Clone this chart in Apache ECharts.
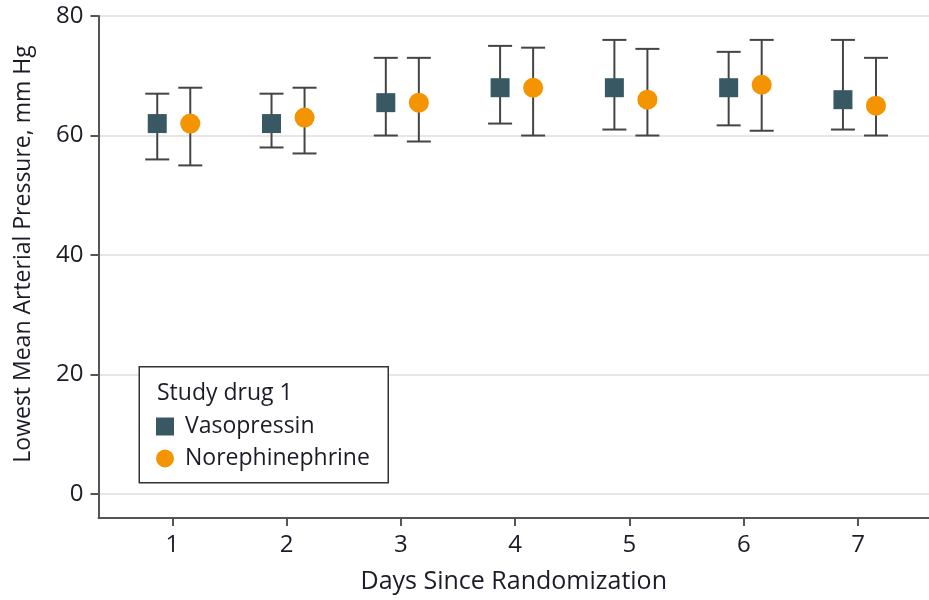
<!DOCTYPE html>
<html>
<head>
<meta charset="utf-8">
<script src="https://cdn.jsdelivr.net/npm/echarts@6/dist/echarts.min.js"></script>
<style>html,body{margin:0;padding:0;background:#fff;}#chart{width:929px;height:600px;}</style>
</head>
<body>
<div id="chart"></div>
<script>
const days = [1, 2, 3, 4, 5, 6, 7];
const vasoMean = [62, 62, 65.5, 68, 68, 68, 66];
const vasoLow  = [56, 58, 60, 62, 61, 61.7, 61];
const vasoHigh = [67, 67, 73, 75, 76, 74, 76];
const noreMean = [62, 63, 65.5, 68, 66, 68.5, 65];
const noreLow  = [55, 57, 59, 60, 60, 60.8, 60];
const noreHigh = [68, 68, 73, 74.7, 74.5, 76, 73];
const yTicks = [0, 20, 40, 60, 80];
const vasoDodge = -0.132;
const noreDodge = 0.157;

const FONT = '"Open Sans", sans-serif';
const TXT = '#1c1c28';

const chart = echarts.init(document.getElementById('chart'), null, {renderer: 'canvas'});

function errBar() {
  return function (params, api) {
    const x = api.value(0);
    const lo = api.coord([x, api.value(1)]);
    const hi = api.coord([x, api.value(2)]);
    const hw = 12;
    const style = {stroke: '#444', lineWidth: 2};
    return {
      type: 'group',
      children: [
        {type: 'line', shape: {x1: lo[0], y1: lo[1], x2: hi[0], y2: hi[1]}, style},
        {type: 'line', shape: {x1: lo[0] - hw, y1: lo[1], x2: lo[0] + hw, y2: lo[1]}, style},
        {type: 'line', shape: {x1: hi[0] - hw, y1: hi[1], x2: hi[0] + hw, y2: hi[1]}, style}
      ]
    };
  };
}

const vasoBars = days.map((d, i) => [d + vasoDodge, vasoLow[i], vasoHigh[i]]);
const noreBars = days.map((d, i) => [d + noreDodge, noreLow[i], noreHigh[i]]);
const vasoPts = days.map((d, i) => [d + vasoDodge, vasoMean[i]]);
const norePts = days.map((d, i) => [d + noreDodge, noreMean[i]]);

chart.setOption({
  animation: false,
  grid: {left: 98.5, right: 0, top: 16, bottom: 82, containLabel: false},
  xAxis: {
    type: 'value', min: 0.354, max: 7.621,
    axisLine: {show: true, onZero: false, lineStyle: {color: '#555', width: 2}},
    axisTick: {show: true, length: 8, lineStyle: {color: '#555', width: 2}, customValues: days},
    axisLabel: {fontSize: 24, fontFamily: FONT, color: TXT, margin: 15, customValues: days},
    splitLine: {show: false},
    name: 'Days Since Randomization', nameLocation: 'middle', nameGap: 64,
    nameTextStyle: {fontSize: 25, fontFamily: FONT, color: TXT, verticalAlign: 'middle'}
  },
  yAxis: {
    type: 'value', min: -4, max: 80,
    axisLine: {show: true, onZero: false, lineStyle: {color: '#555', width: 2}},
    axisTick: {show: true, length: 8, lineStyle: {color: '#555', width: 2}, customValues: yTicks},
    axisLabel: {fontSize: 24, fontFamily: FONT, color: TXT, margin: 15, customValues: yTicks},
    splitLine: {show: true, lineStyle: {color: '#e6e6e6', width: 2}}
  },
  legend: {
    left: 156, top: 415, orient: 'vertical', padding: 0,
    itemWidth: 18, itemHeight: 18, itemGap: 9, z: 20,
    data: ['Vasopressin', 'Norephinephrine'],
    textStyle: {fontSize: 23, fontFamily: FONT, color: TXT, padding: [0, 0, 0, 6]}
  },
  graphic: [
    {type: 'rect', left: 138.5, top: 366, z: 10,
     shape: {width: 249, height: 116},
     style: {fill: '#fff', stroke: '#333', lineWidth: 1.5}},
    {type: 'text', left: 157, top: 382, z: 11,
     style: {text: 'Study drug 1', fontSize: 23, fontFamily: FONT, fill: TXT}},
    {type: 'text', x: 23, y: 254, rotation: Math.PI / 2, z: 11,
     style: {text: 'Lowest Mean Arterial Pressure, mm Hg', fontSize: 23, fontFamily: FONT, fill: TXT,
             align: 'center', verticalAlign: 'middle'}}
  ],
  series: [
    {type: 'custom', name: 'vasoErr', renderItem: errBar(), data: vasoBars, z: 2,
     encode: {x: 0, y: [1, 2]}, silent: true},
    {type: 'custom', name: 'noreErr', renderItem: errBar(), data: noreBars, z: 2,
     encode: {x: 0, y: [1, 2]}, silent: true},
    {type: 'scatter', name: 'Vasopressin', data: vasoPts, symbol: 'rect', symbolSize: 19, z: 5,
     itemStyle: {color: '#385963', opacity: 1}},
    {type: 'scatter', name: 'Norephinephrine', data: norePts, symbol: 'circle', symbolSize: 20, z: 5,
     itemStyle: {color: '#f39400', opacity: 1}}
  ]
});
</script>
</body>
</html>
